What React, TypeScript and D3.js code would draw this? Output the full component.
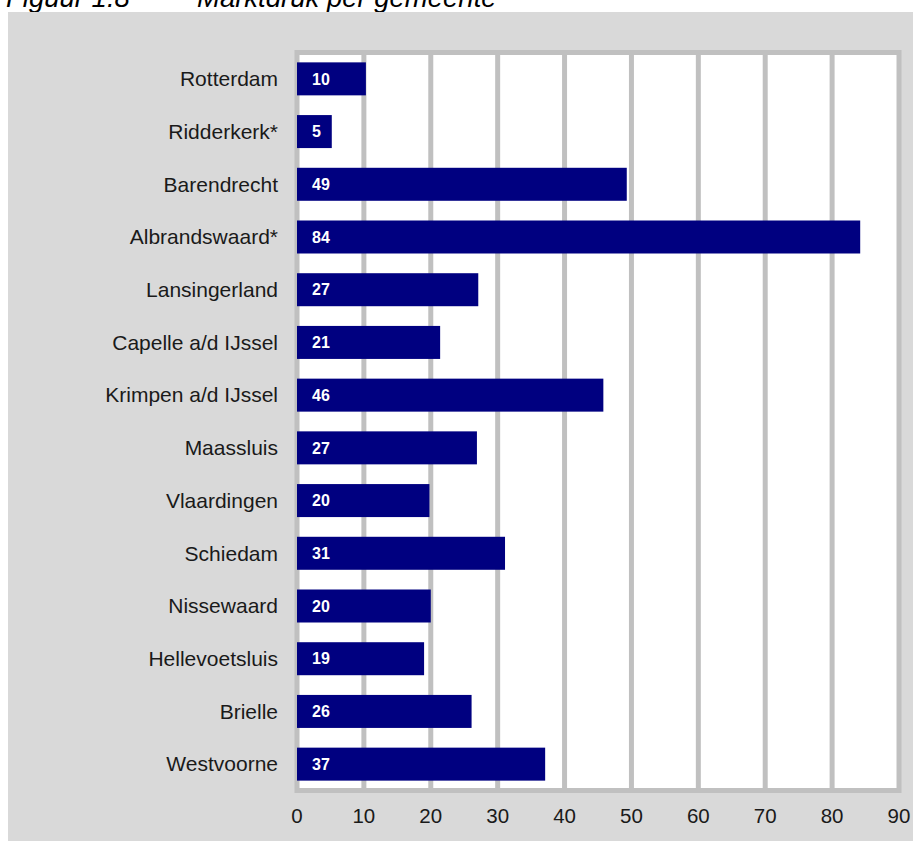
import React from "react";
import * as d3 from "d3";

const categories = [
  "Rotterdam",
  "Ridderkerk*",
  "Barendrecht",
  "Albrandswaard*",
  "Lansingerland",
  "Capelle a/d IJssel",
  "Krimpen a/d IJssel",
  "Maassluis",
  "Vlaardingen",
  "Schiedam",
  "Nissewaard",
  "Hellevoetsluis",
  "Brielle",
  "Westvoorne",
];
const values = [10.3, 5.2, 49.3, 84.2, 27.1, 21.4, 45.8, 26.9, 19.8, 31.1, 20.0, 19.0, 26.1, 37.1];
const xTicks = [0, 10, 20, 30, 40, 50, 60, 70, 80, 90];
const titleNumber = "Figuur 1.8";
const titleText = "Marktdruk per gemeente";

export default function App() {
  const W = 913;
  const H = 841;
  const left = 297;
  const right = 899;
  const top = 52.5;
  const bottom = 790.5;

  const x = d3.scaleLinear().domain([0, 90]).range([left, right]);
  const y = d3.scaleBand<string>().domain(categories).range([top, bottom]).paddingInner(0.374).paddingOuter(0.187);

  const font = "'Liberation Sans', Arial, Helvetica, sans-serif";

  return (
    <svg
      width={W}
      height={H}
      style={{ position: "absolute", left: 0, top: 0, display: "block" }}
      fontFamily={font}
    >
      <rect x={0} y={0} width={W} height={H} fill="#ffffff" />
      <text x={6} y={7} fontSize={27.5} fontStyle="italic" fill="#000">
        {titleNumber}
      </text>
      <text x={197} y={7} fontSize={27.5} fontStyle="italic" fill="#000">
        {titleText}
      </text>
      <rect x={8} y={12} width={W - 8} height={H - 12} fill="#d9d9d9" />
      {/* plot area */}
      <rect x={left} y={top} width={right - left} height={bottom - top} fill="#ffffff" stroke="#c0c0c0" strokeWidth={5} />
      {xTicks.slice(1, -1).map((t) => (
        <line key={t} x1={x(t)} x2={x(t)} y1={top} y2={bottom} stroke="#c0c0c0" strokeWidth={5} />
      ))}
      {/* bars */}
      {categories.map((c, i) => (
        <g key={c}>
          <rect x={x(0)} y={y(c)!} width={x(values[i]) - x(0)} height={y.bandwidth()} fill="#000080" />
          <text
            x={x(0) + 15}
            y={y(c)! + y.bandwidth() / 2}
            dy="0.36em"
            fontSize={16}
            fontWeight="bold"
            fill="#ffffff"
          >
            {Math.round(values[i])}
          </text>
          <text
            x={278}
            y={y(c)! + y.bandwidth() / 2}
            dy="0.35em"
            fontSize={21}
            textAnchor="end"
            fill="#1a1a1a"
          >
            {c}
          </text>
        </g>
      ))}
      {/* x tick labels */}
      {xTicks.map((t) => (
        <text key={t} x={x(t)} y={823} fontSize={20.5} textAnchor="middle" fill="#1a1a1a">
          {t}
        </text>
      ))}
    </svg>
  );
}
